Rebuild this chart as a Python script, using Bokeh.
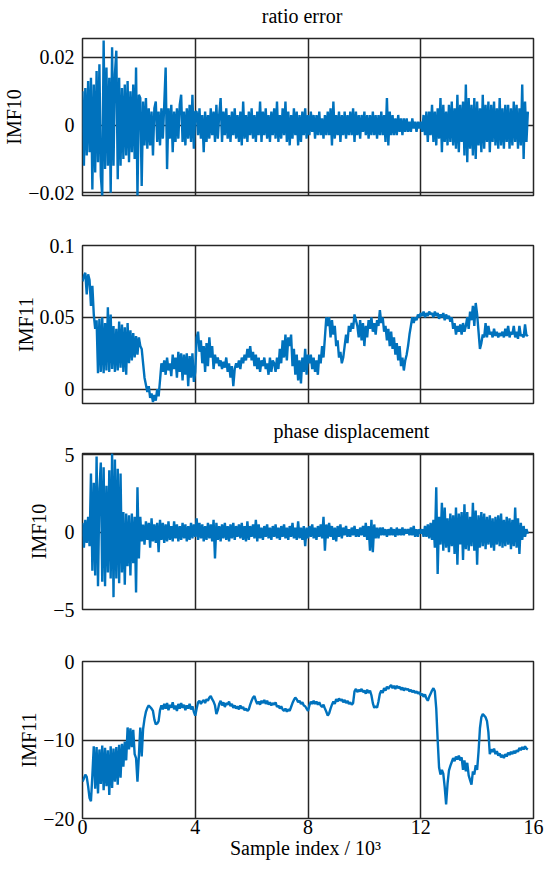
import numpy as np
from bokeh.plotting import figure
from bokeh.models import Range1d, FixedTicker, CustomJSTickFormatter, LinearAxis
from bokeh.layouts import column
from bokeh.embed import file_html
from bokeh.resources import INLINE

# ---------------- data ----------------
SAMPLE_STEP = 0.05          # spacing of stored values, in 10^3 samples
x_ticks = [0, 4, 8, 12, 16]

# ratio error, IMF10  (values in 1e-3)
ratio_imf10_milli = [
    10, -12, 11, -9, 13, -8, 14,
    -19, 12, -14, 16, -11, 18, -15, -21, 25, -13, 17, -12, 14, -20, 23, -12, 15, 22, -16, 14,
    -12, 11, -10, 12, -9, 13, -11, 10, -8, 12, -10, 17, -21, 9, 8, -18, 7, -6, 8, -7,
    5, -6, 4, -9, 5, 7, -5, 4, -6, 5, -4, 6, 17, -13, 5, -4, 6, -8, 4, -5,
    5, -4, 6, 9, -5, 4, -6, 5, -4, 6, -5, 9, -7, 4,
    4, -3, 5, -4, 3, -8, 4, -5, 3, -4,
    5, -3, 4, -5, 6, -4, 3, 8, -5, 4,
    -3, 5, -4, 3, -5, 4, -3, 5, -4, 3,
    -5, 4, -6, 7, -4, 3, -5, 4, -3, 5,
    -4, 3, -5, 4, -3, 7, -5, 4, -3, 5,
    -4, 3, -5, 4, -3, 5, -4, 7, -5, 3,
    -4, 5, -3, 7, -5, 4, -6, 3, -4, 5,
    -3, 4, -6, 3, -5, 4, -3, 5, -4, 3,
    -3, 4, -2, 3, -4, 3, -3, 4, -3, 2,
    -4, 3, -3, 4, -3, 5, -6, 7, -4, 3,
    -3, 4, -5, 3, -3, 4, -4, 3, -3, 4,
    -3, 5, -5, 4, -3, 3, -4, 3, -2, 4,
    -3, 3, -4, 3, -3, 4, -3, 3, -4, 3,
    -3, 4, -3, 3, -5, 8, -6, 4, -3, 3,
    -3, 2, -3, 3, -2, 2, -3, 2, -2, 2,
    -2, 1, -2, 2, -1, 1, -2, 1, -1, 1,
    -2, 3, -3, 4, -5, 4, -3, 6, -5, 4,
    -6, 5, -4, 8, -8, 6, -5, 4, -6, 6,
    -5, 7, -6, 5, -7, 9, -8, 6, -5, 7,
    -9, 12, -11, 8, -7, 6, -9, 8, -10, 7,
    -6, 5, -8, 9, -7, 6, -5, 7, -8, 6,
    -5, 7, -6, 5, -7, 8, -6, 5, -7, 6,
    -5, 6, -7, 5, -6, 7, -5, 6, -7, 5,
    -6, 12, -10, 7, -5, 4,
]

# ratio error, IMF11  (values in 1e-3)
ratio_imf11_milli = [
    75, 79, 81, 66, 80, 76, 58, 72, 52, 42, 48,
    11, 49, 12, 50, 11, 46, 13, 57, 12, 52, 14, 44, 12, 42, 13, 47, 15, 45, 12, 43,
    10, 46, 18, 41, 20, 39, 22, 37, 24, 36,
    30, 28, 18, 8, 3, -2, 2, -6, -3, -9, -4, -8, 0, -5, 6,
    18, 12, 20, 10, 22, 13, 18, 9, 24, 14, 22, 8, 26, 12, 25, 6, 24, 10, 25, 2, 23, 8, 25, 5, 12,
    36, 40, 26, 34, 18, 30, 12, 32, 16, 36, 22, 30, 14, 24, 18, 22, 16, 20, 14, 19,
    15, 22, 12, 18, 8, 16, 2, 14, 18, 15,
    20, 14, 22, 18, 24, 20, 28, 22, 30, 20, 26, 16, 24, 14, 22, 12, 20, 16, 22, 14,
    18, 10, 22, 12, 20, 18,
    12, 22, 14, 28, 18, 34, 22, 38, 20, 36, 30, 38, 16, 28, 10, 24, 6, 20, 4, 22, 12, 28, 10, 24,
    18, 24, 14, 22, 12, 20, 10, 24, 18, 30, 22, 36,
    50, 44, 50, 36, 48, 38, 44, 30, 34, 22, 26, 18, 22,
    30, 38, 32, 44, 40, 46, 42, 52, 48, 44, 36, 48, 34, 46, 30, 44, 36, 48, 42, 50,
    40, 46, 38, 48, 44, 55, 46, 50, 40,
    44, 34, 42, 30, 40, 28, 36, 24, 32, 20, 30, 16, 22, 13, 20,
    24, 30, 38, 44, 50, 46, 50, 48, 52, 50, 53, 51, 54, 50, 53,
    51, 54, 52, 53, 50, 54, 51, 53, 49, 52, 50, 53, 48, 52, 49, 51, 47, 50,
    42, 46, 38, 44, 40, 45, 38, 46, 40, 44,
    50, 42, 54, 48, 58, 44, 60, 52, 40, 28,
    32, 38, 36, 46, 36, 44, 38, 40, 36, 42, 37, 40, 36, 39, 37, 40, 36, 42, 37, 44,
    36, 40, 38, 44, 36, 40, 35, 44, 37, 38, 36, 45, 37, 38,
]

# phase displacement, IMF10
phase_imf10 = [
    0.6, -1.0, 0.8, -0.7, 1.0, -0.9,
    3.8, -2.5, 3.2, -2.8, 4.9, -3.5, 2.8, 4.5, -3.2, 4.2, -3.5, 3.0, -2.6, 4.0, -3.0, 5.1,
    -4.2, 4.7, -3.0, 4.1, -3.3, 3.8, -2.6,
    1.3, -3.4, 1.2, -2.2, 1.1, -2.8, 1.2, -2.0, 1.0, -3.9, 2.9, -1.7, 1.0,
    -0.6, 0.5, -0.8, 0.7, -0.5, 0.6, -1.0, 0.9, -0.6, 0.5, -0.7, 0.6, -1.3, 0.8, -0.5, 0.6,
    -0.7, 0.5, -0.6, 0.7, -0.5, 0.4, -0.6, 0.7, -0.4, 0.5, -0.6, 0.4, -0.5, 0.6, -0.4, 0.5,
    -0.6, 0.4, -0.5, 0.6, -0.4, 0.5, -0.3,
    0.9, -0.5, 0.6, -0.4, 0.5, -0.6, 0.4, -0.5, 0.6, -0.4,
    0.5, -0.6, 0.8, -1.7, 0.6, -0.5, 0.4, -0.6, 0.5, -0.4,
    0.6, -0.5, 0.4, -0.6, 0.5, -0.4, 0.6, -0.5, 0.4, -0.3,
    0.5, -0.4, 0.6, -0.5, 0.4, -0.6, 0.7, -0.5, 0.4, -0.3,
    0.5, -0.4, 0.8, -0.6, 0.5, -0.4, 0.3, -0.5, 0.4, -0.3,
    0.5, -0.4, 0.3, -0.5, 0.4, -0.3, 0.5, -0.4, 0.3, -0.5,
    0.4, -0.3, 0.5, -0.4, 0.3, -0.5, 0.4, -0.3, 0.6, -0.4,
    0.3, -0.5, 0.7, -0.4, 0.3, -0.5, 0.4, -0.9, 0.3, -0.4,
    0.4, -0.3, 0.5, -0.4, 0.3, -0.5, 0.4, -0.3, 0.5, -0.4,
    1.0, -1.2, 0.5, -0.4, 0.6, -0.3, 0.4, -0.5, 0.3, -0.6,
    0.4, -0.3, 0.5, -0.4, 0.3, -0.2, 0.4, -0.3, 0.2, -0.3,
    0.3, -0.2, 0.4, -0.3, 0.2, -0.3, 0.3, -0.2, 0.4, -0.3,
    0.6, -0.5, 0.4, -1.2, 0.8, -1.3, 0.5, -0.4, 0.3, -0.4,
    0.3, -0.2, 0.3, -0.2, 0.2, -0.3, 0.2, -0.2, 0.3, -0.2,
    0.2, -0.3, 0.3, -0.2, 0.2, -0.2, 0.3, -0.2, 0.2, -0.1,
    0.2, -0.2, 0.3, -0.2, 0.4, -0.3, 0.2, -0.3, 0.2, -0.1,
    0.2, -0.3, 0.4, -0.3, 0.5, -0.4, 0.6, -0.5, 0.8, -1.0,
    2.9, -2.7, 1.0, -0.8, 1.9, -1.2, 1.6, -1.0, 0.9, -1.3,
    1.2, -0.9, 1.1, -1.4, 1.6, -2.1, 1.2, -0.8, 1.3, -1.8,
    1.8, -1.1, 1.3, -1.2, 1.0, -0.9, 1.9, -1.2, 1.4, -2.1,
    1.1, -1.0, 1.3, -0.9, 1.2, -1.1, 1.0, -0.8, 1.1, -1.0,
    0.9, -1.2, 1.0, -0.8, 1.1, -0.9, 1.2, -1.0, 0.8, -0.9,
    1.0, -0.8, 0.9, -1.1, 0.8, -0.9, 1.6, -1.0, 0.9, -1.4,
    0.6, -0.5, 0.4, -0.3, 0.2, -0.1,
]

# phase displacement, IMF11
phase_imf11 = [
    -15.3, -14.9, -14.4, -14.7, -15.9, -17.4, -17.8, -14.5, -10.8,
    -16.2, -10.9, -16.8, -11.2, -15.6, -10.7, -16.4, -11.0, -15.9, -11.3,
    -17.0, -10.8, -16.1, -11.1, -15.3, -10.9, -15.7, -10.6, -14.8, -10.5,
    -13.4, -10.2, -12.6, -8.4, -11.2, -8.5, -10.9, -8.7, -11.8, -12.3,
    -15.3, -12.0, -8.4, -12.1, -8.6, -7.3, -6.4, -5.9, -5.6,
    -5.8, -6.0, -6.3, -7.4, -8.0, -7.9, -7.6, -6.2, -5.6,
    -6.1, -5.4, -6.0, -5.3, -6.2, -5.5, -5.9, -5.2, -6.1, -5.6, -6.3, -5.4,
    -6.0, -5.3, -5.9, -5.5, -6.2, -5.6, -6.0, -5.4, -6.1, -5.7, -6.4, -6.9,
    -6.0, -5.2, -5.0, -5.4, -5.1, -4.9, -5.3, -4.8, -5.0, -4.6, -4.4, -4.8,
    -5.1, -5.6, -6.7, -6.2,
    -5.4, -5.0, -5.6, -5.2, -5.8, -5.3, -5.5, -5.1, -5.7, -5.4, -5.9,
    -5.6, -6.0, -5.7, -6.1, -5.6, -6.0, -5.8, -6.2, -6.0, -6.3, -6.1,
    -5.5, -5.0, -4.6, -4.4, -5.0, -5.4, -5.1, -5.5, -5.0, -5.3, -4.9, -5.4, -5.0,
    -5.5, -5.2, -5.6, -5.3, -5.5, -5.2, -5.8, -5.6, -6.0, -5.7, -6.1, -6.3,
    -6.0, -6.4, -6.1, -6.3, -5.8, -5.3, -4.9, -4.6, -4.8, -5.2, -5.0, -5.4,
    -5.2, -5.6, -5.7, -6.0, -6.3,
    -5.6, -5.1, -5.4, -5.0, -5.4, -5.1, -5.5, -5.2, -5.6, -5.8, -5.5, -6.0,
    -6.4, -6.9, -6.6, -6.0, -5.5, -5.1, -5.4, -4.8, -5.1, -4.7, -5.0, -4.8,
    -5.2, -4.9, -5.3, -5.0, -5.4, -5.2, -5.5, -5.3,
    -3.8, -3.5, -3.9, -3.6, -3.8, -3.5, -3.9, -3.7, -4.1, -3.6, -4.0, -3.7, -4.3,
    -5.3, -5.9, -5.7, -5.9, -5.1, -4.1,
    -3.7, -4.0, -3.4, -3.7, -3.2, -3.5, -3.2, -3.0, -3.4, -3.1, -3.5, -3.1,
    -3.4, -3.2, -3.6, -3.3, -3.7, -3.4, -3.6, -3.5, -3.8, -3.6, -3.9, -3.7,
    -4.0, -3.8, -4.1, -3.9, -4.3,
    -4.1, -4.5, -4.2, -4.7, -5.0, -4.5, -4.1, -3.7, -3.4, -3.8,
    -6.0, -10.0, -13.5, -14.4, -13.8, -14.3, -16.0, -18.2, -15.6, -13.9, -13.3,
    -12.8, -12.3, -12.7, -12.1, -12.5, -12.0, -12.6, -12.2, -13.8, -12.6, -14.0, -12.9,
    -14.5, -15.1, -15.7, -14.0, -14.4, -13.2, -13.8,
    -11.5, -8.5, -7.1, -6.7, -6.9, -7.1, -7.6, -9.0, -11.8,
    -11.2, -11.5, -11.1, -11.8, -11.4, -12.0, -11.7, -12.2, -11.9, -12.3,
    -11.8, -12.1, -11.6, -11.9, -11.5, -11.8, -11.4, -11.7, -11.3, -11.5,
    -11.0, -11.3, -10.9, -11.2, -10.8, -11.1, -11.2,
]

ratio_imf10 = np.array(ratio_imf10_milli) * 1e-3
ratio_imf11 = np.array(ratio_imf11_milli) * 1e-3

# ---------------- styling ----------------
FONT = "Liberation Serif"
BLUE = "#0072BD"
DARK = "#262626"
FS = "20px"
FRAME_W = 451

minus_fmt = """
var s = Math.abs(tick).toString();
return tick < 0 ? "\\u2212" + s : s;
"""


def panel(y, y_range, y_ticks, ylabel, top, frame_h, bottom,
          title=None, title_x=8.0, show_x=False):
    x = np.arange(len(y)) * SAMPLE_STEP
    p = figure(frame_width=FRAME_W, frame_height=frame_h,
               x_range=Range1d(0, 16), y_range=Range1d(*y_range),
               output_backend="svg", toolbar_location=None,
               min_border_left=82, min_border_right=17,
               min_border_top=top, min_border_bottom=bottom,
               background_fill_color="white", border_fill_color="white")
    p.line(x, y, line_color=BLUE, line_width=2.4, line_join="bevel")

    p.outline_line_color = DARK
    p.outline_line_width = 1.5
    p.outline_line_alpha = 1.0

    p.xgrid.ticker = FixedTicker(ticks=x_ticks)
    p.ygrid.ticker = FixedTicker(ticks=y_ticks)
    p.grid.grid_line_color = DARK
    p.grid.grid_line_width = 1.5
    p.grid.grid_line_alpha = 1.0

    yax = p.yaxis[0]
    yax.ticker = FixedTicker(ticks=y_ticks)
    yax.formatter = CustomJSTickFormatter(code=minus_fmt)
    yax.axis_line_color = None
    yax.major_tick_line_color = None
    yax.minor_tick_line_color = None
    yax.major_label_text_font = FONT
    yax.major_label_text_font_size = FS
    yax.major_label_text_color = "black"
    yax.major_label_standoff = 2
    yax.axis_label = ylabel
    yax.axis_label_text_font = FONT
    yax.axis_label_text_font_size = FS
    yax.axis_label_text_font_style = "normal"
    yax.axis_label_text_color = "black"
    yax.axis_label_standoff = 0

    xax = p.xaxis[0]
    xax.ticker = FixedTicker(ticks=x_ticks)
    if show_x:
        xax.axis_line_color = None
        xax.major_tick_line_color = None
        xax.minor_tick_line_color = None
        xax.major_tick_out = 0
        xax.major_label_text_font = FONT
        xax.major_label_text_font_size = FS
        xax.major_label_text_color = "black"
        xax.major_label_standoff = 1
        xax.axis_label = "Sample index  / 10\u00b3"
        xax.axis_label_text_font = FONT
        xax.axis_label_text_font_size = FS
        xax.axis_label_text_font_style = "normal"
        xax.axis_label_text_color = "black"
        xax.axis_label_standoff = 0
    else:
        xax.visible = False

    if title:
        # the panel heading, drawn as a single label of an axis above the frame
        head = LinearAxis(ticker=FixedTicker(ticks=[title_x]),
                          formatter=CustomJSTickFormatter(code="return %r;" % title),
                          axis_line_color=None, major_tick_line_color=None,
                          minor_tick_line_color=None, major_tick_out=0,
                          major_tick_in=0, minor_tick_out=0, minor_tick_in=0,
                          major_label_standoff=12,
                          major_label_text_font=FONT,
                          major_label_text_font_size=FS,
                          major_label_text_color="black")
        p.add_layout(head, "above")
    return p


p1 = panel(ratio_imf10, (-0.0208, 0.0256), [-0.02, 0, 0.02], "IMF10",
           38, 157, 15, title="ratio error", title_x=7.79)
p2 = panel(ratio_imf11, (-0.01, 0.1), [0, 0.05, 0.1], "IMF11",
           35, 158, 10)
p3 = panel(phase_imf10, (-5, 5.09), [-5, 0, 5], "IMF10",
           40, 156, 15, title="phase displacement", title_x=9.54)
p4 = panel(phase_imf11, (-20, 0), [-20, -10, 0], "IMF11",
           37, 157, 52, show_x=True)

layout = column(p1, p2, p3, p4, spacing=0)
open("out.html", "w").write(file_html(layout, INLINE))
